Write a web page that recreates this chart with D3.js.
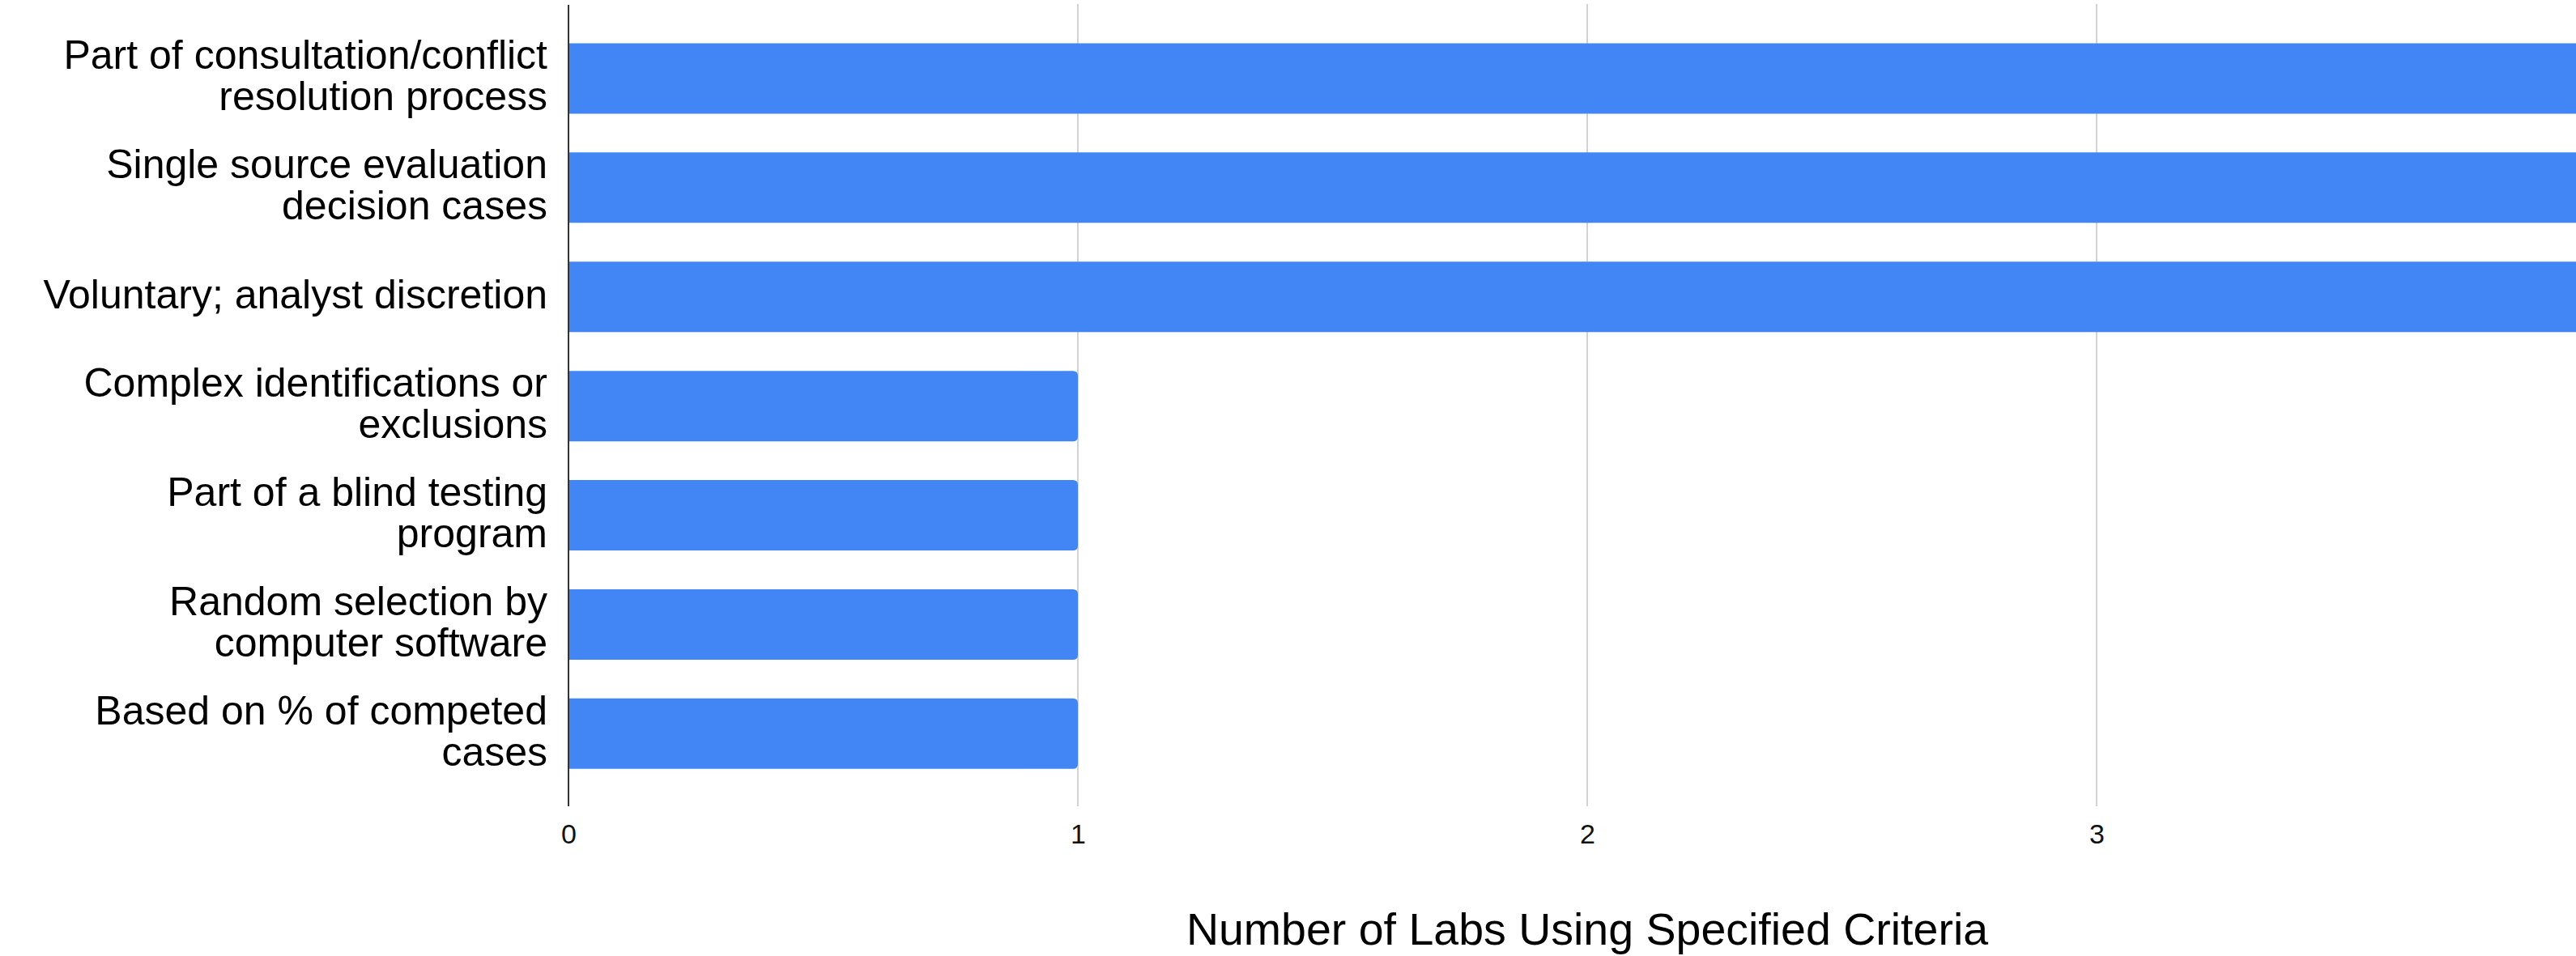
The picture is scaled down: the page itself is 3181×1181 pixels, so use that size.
<!DOCTYPE html>
<html>
<head>
<meta charset="utf-8">
<script src="https://cdn.jsdelivr.net/npm/d3@7"></script>
<style>
  html, body { margin: 0; padding: 0; background: #ffffff; }
  svg { display: block; font-family: "Liberation Sans", Arial, sans-serif; }
</style>
</head>
<body>
<svg id="chart" width="3181" height="1181"></svg>
<script>
// Review criteria and number of labs that use each one
const categories = [
  "Part of consultation/conflict resolution process",
  "Single source evaluation decision cases",
  "Voluntary; analyst discretion",
  "Complex identifications or exclusions",
  "Part of a blind testing program",
  "Random selection by computer software",
  "Based on % of competed cases"
];
const labCounts = [4, 4, 4, 1, 1, 1, 1];
const xTicks = [0, 1, 2, 3];
const xMax = 4;
const xTitle = "Number of Labs Using Specified Criteria";

const svg = d3.select("#chart");

// Plot area geometry
const left = 702, right = 3218;
const gridTop = 5, gridBottom = 996;

const x = d3.scaleLinear().domain([0, xMax]).range([left, right]);
const y = d3.scaleBand()
  .domain(categories)
  .range([29.5, 973.8])
  .paddingInner(0.355)
  .paddingOuter(0.1775);

// Vertical gridlines
svg.append("g")
  .selectAll("line")
  .data(xTicks.filter(d => d !== 0))
  .join("line")
  .attr("x1", d => x(d)).attr("x2", d => x(d))
  .attr("y1", gridTop).attr("y2", gridBottom)
  .attr("stroke", "#d3d3d3")
  .attr("stroke-width", 2);

// Bars with rounded ends on the value side
const r = 6;
svg.append("g")
  .selectAll("path")
  .data(categories.map((c, i) => ({ c, v: labCounts[i] })))
  .join("path")
  .attr("fill", "#4285f4")
  .attr("d", d => {
    const x0 = x(0), x1 = x(d.v);
    const y0 = y(d.c), h = y.bandwidth();
    return `M${x0},${y0} H${x1 - r} Q${x1},${y0} ${x1},${y0 + r}` +
           ` V${y0 + h - r} Q${x1},${y0 + h} ${x1 - r},${y0 + h} H${x0} Z`;
  });

// Zero baseline
svg.append("line")
  .attr("x1", x(0)).attr("x2", x(0))
  .attr("y1", gridTop + 1).attr("y2", gridBottom)
  .attr("stroke", "#333333")
  .attr("stroke-width", 2);

// Value axis labels
const xAxis = svg.append("g")
  .attr("transform", `translate(0,${gridBottom})`)
  .call(d3.axisBottom(x).tickValues(xTicks).tickFormat(d3.format("d")).tickSize(0));
xAxis.select(".domain").remove();
xAxis.selectAll("text")
  .attr("y", 46)
  .attr("dy", 0)
  .attr("font-size", 34)
  .attr("font-family", "\"Liberation Sans\", Arial, sans-serif")
  .attr("fill", "#111111");

// Category axis labels, wrapped onto lines
const yAxis = svg.append("g")
  .attr("transform", `translate(${x(0)},0)`)
  .call(d3.axisLeft(y).tickSize(0).tickPadding(26));
yAxis.select(".domain").remove();

const fontSize = 50, lineHeight = 51, maxWidth = 640;
yAxis.selectAll(".tick text").each(function (label) {
  const text = d3.select(this)
    .attr("font-size", fontSize)
    .attr("font-family", "\"Liberation Sans\", Arial, sans-serif")
    .attr("fill", "#000000")
    .attr("text-anchor", "end")
    .attr("dy", null)
    .text(null);
  const words = label.split(" ");
  const lines = [];
  let current = [];
  const probe = text.append("tspan");
  words.forEach(w => {
    const trial = current.concat([w]).join(" ");
    probe.text(trial);
    if (current.length && probe.node().getComputedTextLength() > maxWidth) {
      lines.push(current.join(" "));
      current = [w];
    } else {
      current.push(w);
    }
  });
  lines.push(current.join(" "));
  probe.remove();
  const n = lines.length;
  lines.forEach((ln, i) => {
    text.append("tspan")
      .attr("x", -26)
      .attr("y", (i - (n - 1) / 2) * lineHeight + 14)
      .text(ln);
  });
});

// Axis title
svg.append("text")
  .attr("x", (x(0) + x(xMax)) / 2)
  .attr("y", 1167)
  .attr("text-anchor", "middle")
  .attr("font-size", 55.5)
  .attr("fill", "#000000")
  .text(xTitle);
</script>
</body>
</html>
